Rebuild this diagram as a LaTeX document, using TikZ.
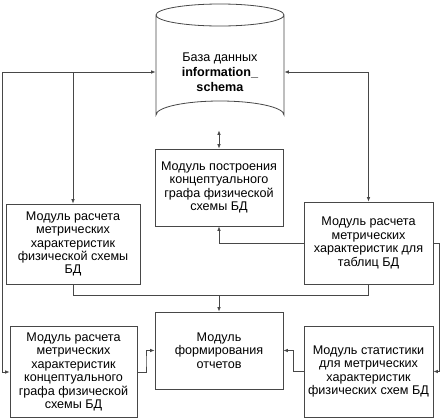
\documentclass[tikz,border=0pt]{standalone}
\usepackage{fontspec}
\setmainfont{Liberation Sans}
\usetikzlibrary{arrows.meta,calc}
\begin{document}
\begin{tikzpicture}[x=1pt,y=-1pt,
  line width=0.8pt,
  ln/.style={draw=black!72},
  arr/.style={ln,-{Latex[length=4.5pt,width=3.6pt]}},
  arr2/.style={ln,{Latex[length=4.5pt,width=3.6pt]}-{Latex[length=4.5pt,width=3.6pt]}},
  box/.style={draw=black!72,fill=white,align=center,inner sep=1pt,
    font=\fontsize{12.6}{13.4}\selectfont},
  dbnode/.style={draw=none,align=center,inner sep=0pt,
    font=\fontsize{12.6}{15}\selectfont}]
\useasboundingbox (0,0) rectangle (443,418);
% database cylinder
\node[dbnode,minimum width=128pt,minimum height=127pt] (db) at (220,66.5) {};
\draw[ln] (156,15) -- (156,115) arc[start angle=180,end angle=360,x radius=64,y radius=14]
  -- (284,15) arc[start angle=0,end angle=-180,x radius=64,y radius=11]
  arc[start angle=180,end angle=0,x radius=64,y radius=11];
\node[dbnode] (dbtext) at (220,72) {База данных\\\textbf{information\_}\\\textbf{schema}};
% modules
\node[box,minimum width=128pt,minimum height=77pt] (m1) at (219,187.5)
  {Модуль построения\\концептуального\\графа физической\\схемы БД};
\node[box,minimum width=134pt,minimum height=80pt] (mL) at (73,244)
  {Модуль расчета\\метрических\\характеристик\\физической схемы\\БД};
\node[box,minimum width=129pt,minimum height=82pt] (mR) at (368.5,243)
  {Модуль расчета\\метрических\\характеристик для\\таблиц БД};
\node[box,minimum width=128pt,minimum height=77pt] (rep) at (219,350.5)
  {Модуль\\формирования\\отчетов};
\node[box,minimum width=127pt,minimum height=91pt] (bL) at (73.5,372)
  {Модуль расчета\\метрических\\характеристик\\концептуального\\графа физической\\схемы БД};
\node[box,minimum width=129pt,minimum height=91pt] (bR) at (368.5,371.5)
  {Модуль статистики\\для метрических\\характеристик\\физических схем БД};
% connector points
\coordinate (cL) at (2,72);
\coordinate (jL) at (73,72);
\coordinate (cR) at (368.5,72);
\coordinate (cR2) at (439,243);
\coordinate (jB) at (219,295);
% connectors
\draw[arr] (cL) -- (db.west|-cL);
\draw[arr] (jL) -- (mL.north);
\draw[arr] (cL) -- (cL|-bL.west) -- (bL.west);
\draw[arr] (cR) -- (db.east|-cR);
\draw[arr] (cR) -- (mR.north);
\draw[arr2] (m1.north|-db.south) -- (m1.north);
\draw[arr] (mR.west) -- (m1.south|-mR.west) -- (m1.south);
\draw[arr] (mR.east) -- (cR2) -- (cR2|-bR.east) -- (bR.east);
\draw[ln] (mL.south) -- (mL.south|-jB) -- (mR.south|-jB) -- (mR.south);
\draw[arr] (jB) -- (rep.north);
\draw[arr] (bL.east) -| ($(bL.east)!.5!(rep.west)$) |- (rep.west);
\draw[arr] (bR.west) -| ($(bR.west)!.5!(rep.east)$) |- (rep.east);
\end{tikzpicture}
\end{document}
